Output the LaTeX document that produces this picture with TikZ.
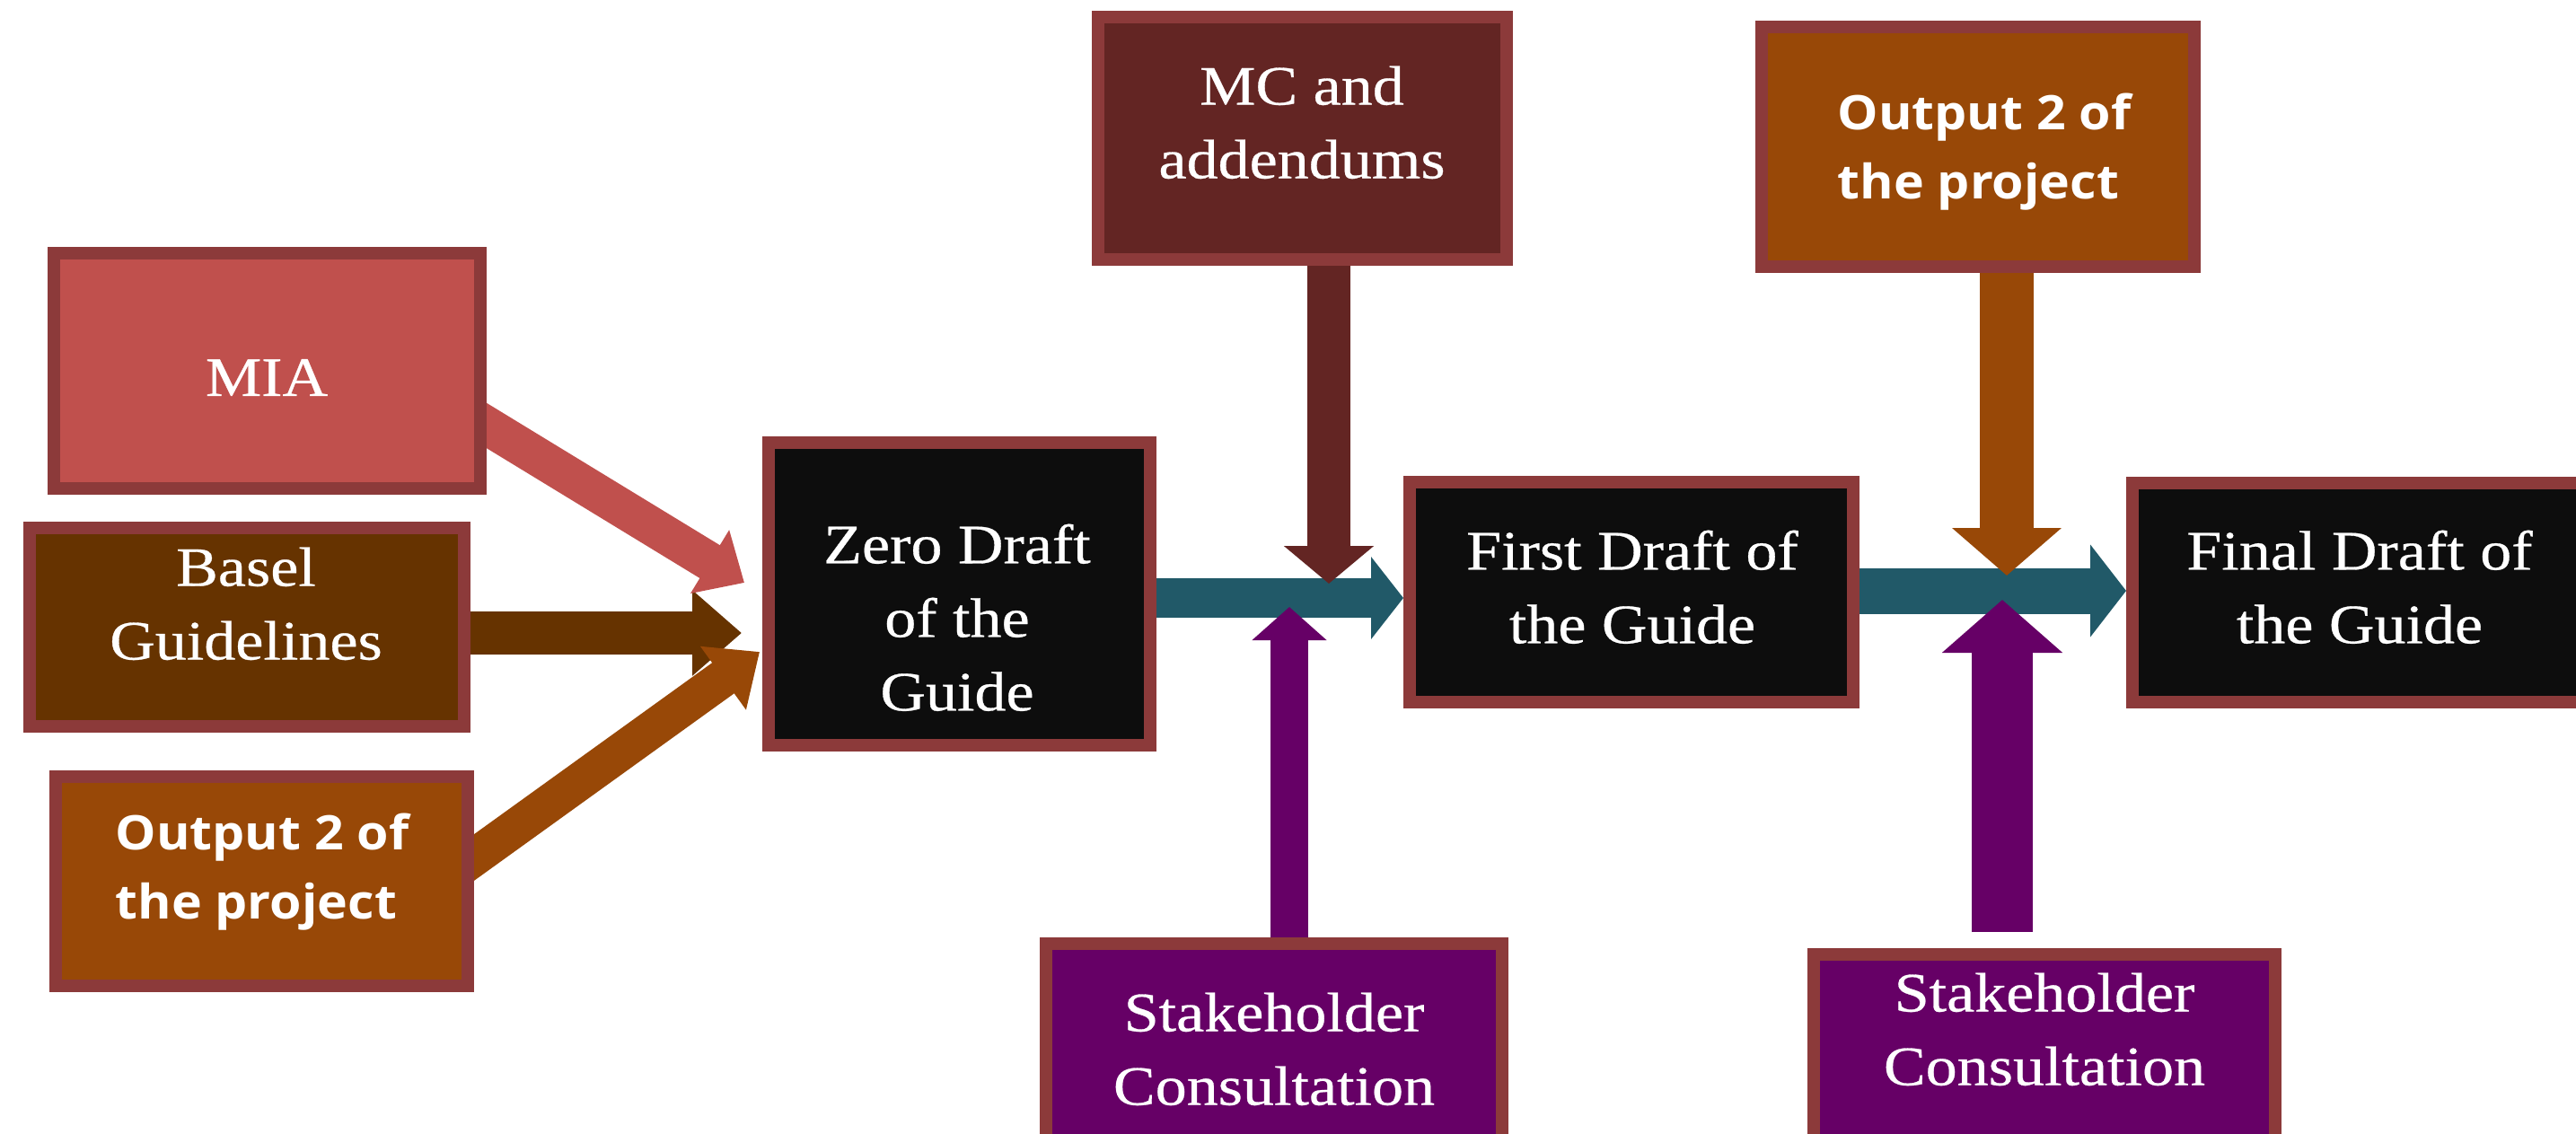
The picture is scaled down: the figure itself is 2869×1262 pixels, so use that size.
\documentclass[tikz,border=0pt]{standalone}
\usepackage{fontspec}
\newfontfamily\boxserif[FakeStretch=1.13,FakeBold=0.5]{Liberation Serif}
\newfontfamily\boxsans[FakeStretch=1.08]{Open Sans}
\usetikzlibrary{arrows.meta,calc}
\definecolor{bord}{HTML}{8C3A3A}
\definecolor{miac}{HTML}{C0504D}
\definecolor{baselc}{HTML}{663300}
\definecolor{outc}{HTML}{984807}
\definecolor{mcc}{HTML}{632523}
\definecolor{stc}{HTML}{660066}
\definecolor{tealc}{HTML}{215968}
\definecolor{draftc}{HTML}{0D0D0D}
\begin{document}
\begin{tikzpicture}[x=1pt,y=-1pt,
  box/.style={draw=bord, line width=14pt, rectangle, inner sep=0pt, outer sep=7pt},
  txt/.style={text=white, inner sep=0pt, align=center, text depth=0pt,
    font=\boxserif\fontsize{62}{82}\selectfont},
  stxt/.style={text=white, inner sep=0pt, align=left, text depth=0pt,
    font=\boxsans\bfseries\fontsize{53}{77}\selectfont},
  fat/.style={line width=#1}]
\clip (0,0) rectangle (2869,1262);
\fill[white] (0,0) rectangle (2869,1262);

% boxes (left column first so diagonal shafts can sit beneath)
\node[box, fill=miac, minimum width=475pt, minimum height=262pt] (mia) at (297.5,413) {};
\node[box, fill=baselc, minimum width=484pt, minimum height=221pt] (basel) at (275,698.5) {};
\node[box, fill=outc, minimum width=459pt, minimum height=233pt] (outl) at (291.5,981.5) {};
\node[box, fill=draftc, minimum width=425pt, minimum height=337pt] (zero) at (1068.5,661.5) {};

% arrows into the zero draft
\draw[baselc, fat=48pt, -{Triangle[length=55pt,width=92pt]}, shorten <=-20pt]
  ($(basel.east)+(0,6.5)$) -- ($(zero.west)+(-23,43.5)$);
\draw[miac, fat=43pt, -{Triangle[length=45pt,width=80pt]}, shorten <=-30pt]
  ($(mia.east)+(0,61)$) -- ($(zero.west)+(-20,-12.5)$);
\draw[outc, fat=42pt, -{Triangle[length=50pt,width=84pt]}, shorten <=-30pt]
  ($(outl.east)+(0,-26.5)$) -- ($(zero.west)+(-3,64.5)$);

% redraw left boxes over the shaft starts
\node[box, fill=miac, minimum width=475pt, minimum height=262pt] at (297.5,413) {};
\node[box, fill=baselc, minimum width=484pt, minimum height=221pt] at (275,698.5) {};
\node[box, fill=outc, minimum width=459pt, minimum height=233pt] at (291.5,981.5) {};

% other boxes
\node[box, fill=mcc, minimum width=455pt, minimum height=270pt] (mc) at (1450.5,154) {};
\node[box, fill=draftc, minimum width=494pt, minimum height=245pt] (first) at (1817,659.5) {};
\node[box, fill=stc, minimum width=508pt, minimum height=300pt] (st1) at (1419,1201) {};
\node[box, fill=outc, minimum width=482pt, minimum height=267pt] (outr) at (2203,163.5) {};
\node[box, fill=draftc, minimum width=504pt, minimum height=244pt] (final) at (2627,660) {};
\node[box, fill=stc, minimum width=514pt, minimum height=300pt] (st2) at (2277,1213) {};

% texts
\node[txt] (mia-t) at (297,420.5) {MIA};
\node[txt] (basel-t) at (274,672) {Basel\\Guidelines};
\node[stxt] (outl-t) at (292,964.5) {Output 2 of\\the project};
\node[txt] (zero-t) at (1066,687.5) {Zero Draft\\of the\\Guide};
\node[txt] (mc-t) at (1450,136) {MC and\\addendums};
\node[txt] (first-t) at (1818,653.5) {First Draft of\\the Guide};
\node[stxt] (outr-t) at (2210,163) {Output 2 of\\the project};
\node[txt] (final-t) at (2628,653.5) {Final Draft of\\the Guide};
\node[txt] (st1-t) at (1419,1168) {Stakeholder\\Consultation};
\node[txt] (st2-t) at (2277,1146) {Stakeholder\\Consultation};

% junction points
\coordinate (j1a) at (1480,650);
\coordinate (j1b) at (1436,676);
\coordinate (j2a) at (2235,641);
\coordinate (j2b) at (2230,668);

% main flow
\draw[tealc, fat=44pt, -{Triangle[length=36pt,width=90pt]}]
  ($(zero.east)+(0,4.5)$) -- ($(first.west)+(0,6.5)$);
\draw[tealc, fat=51pt, -{Triangle[length=40pt,width=101pt]}]
  ($(first.east)+(0,-1.5)$) -- ($(final.west)+(0,-2)$);

% vertical inputs
\draw[mcc, fat=48pt, -{Triangle[length=42pt,width=98pt]}] (mc.south -| j1a) -- (j1a);
\draw[stc, fat=42pt, -{Triangle[length=37pt,width=81pt]}] (st1.north -| j1b) -- (j1b);
\draw[outc, fat=60pt, -{Triangle[length=53pt,width=119pt]}] (outr.south -| j2a) -- (j2a);
\draw[stc, fat=68pt, -{Triangle[length=59pt,width=131pt]}] ($(st2.north -| j2b)+(0,-18)$) -- (j2b);
\end{tikzpicture}
\end{document}
